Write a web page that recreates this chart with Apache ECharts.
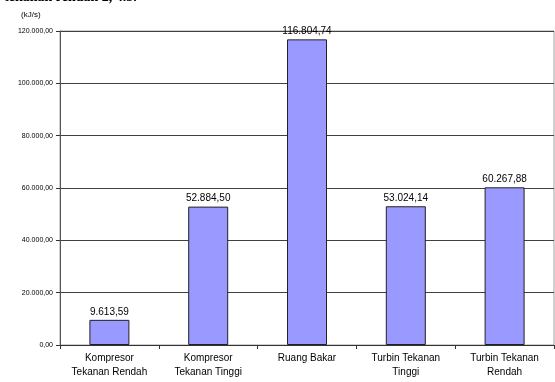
<!DOCTYPE html>
<html><head><meta charset="utf-8">
<script src="https://cdn.jsdelivr.net/npm/echarts@6/dist/echarts.min.js"></script>
<style>html,body{margin:0;padding:0;background:#fff;}#c{width:555px;height:382px;}</style>
</head><body><div id="c"></div>
<script>
const categories = ["Kompresor\nTekanan Rendah", "Kompresor\nTekanan Tinggi", "Ruang Bakar", "Turbin Tekanan\nTinggi", "Turbin Tekanan\nRendah"];
const values = [9613.59, 52884.50, 116804.74, 53024.14, 60267.88];
const yTicks = [0, 20000, 40000, 60000, 80000, 100000, 120000];
const unitLabel = "(kJ/s)";
const headText = "tekanan rendah 2, 4.5.";

function fmt(v) {
  const neg = v < 0; v = Math.abs(v);
  let s = v.toFixed(2);
  let [i, d] = s.split(".");
  i = i.replace(/\B(?=(\d{3})+(?!\d))/g, ".");
  return (neg ? "-" : "") + i + "," + d;
}

const chart = echarts.init(document.getElementById('c'), null, {renderer: 'canvas'});
chart.setOption({
  animation: false,
  backgroundColor: '#fff',
  grid: {left: 60, right: 1, top: 31, bottom: 37, containLabel: false, show: true, borderColor: '#a0a0a0', borderWidth: 1, backgroundColor: 'transparent'},
  graphic: [
    {type: 'text', left: 21, top: 11, style: {text: unitLabel, font: '8px Arial, "Liberation Sans"', fill: '#000'}},
    {type: 'text', left: 4, top: -10, style: {text: headText, font: 'bold 14px "Liberation Serif", serif', fill: '#000'}}
  ],
  xAxis: {
    type: 'category',
    data: categories,
    axisLine: {lineStyle: {color: '#333', width: 1}},
    axisTick: {show: true, length: 4, lineStyle: {color: '#333'}, alignWithLabel: false},
    axisLabel: {color: '#000', fontSize: 10, fontFamily: 'Arial, "Liberation Sans"', lineHeight: 14, margin: 6, interval: 0}
  },
  yAxis: {
    type: 'value',
    min: 0, max: 120000, interval: 20000,
    axisLine: {show: true, lineStyle: {color: '#555', width: 1}},
    axisTick: {show: true, length: 4, lineStyle: {color: '#333'}},
    splitLine: {show: true, lineStyle: {color: '#404040', width: 1}},
    axisLabel: {color: '#000', fontSize: 7, fontFamily: 'Arial, "Liberation Sans"', margin: 7, formatter: v => fmt(v)}
  },
  series: [{
    type: 'bar',
    data: values,
    barWidth: 40,
    itemStyle: {color: '#9999ff', borderColor: '#222', borderWidth: 1},
    label: {show: true, position: 'top', distance: 3, color: '#000', fontSize: 10, fontFamily: 'Arial, "Liberation Sans"', formatter: p => fmt(p.value)}
  }]
});
</script></body></html>
